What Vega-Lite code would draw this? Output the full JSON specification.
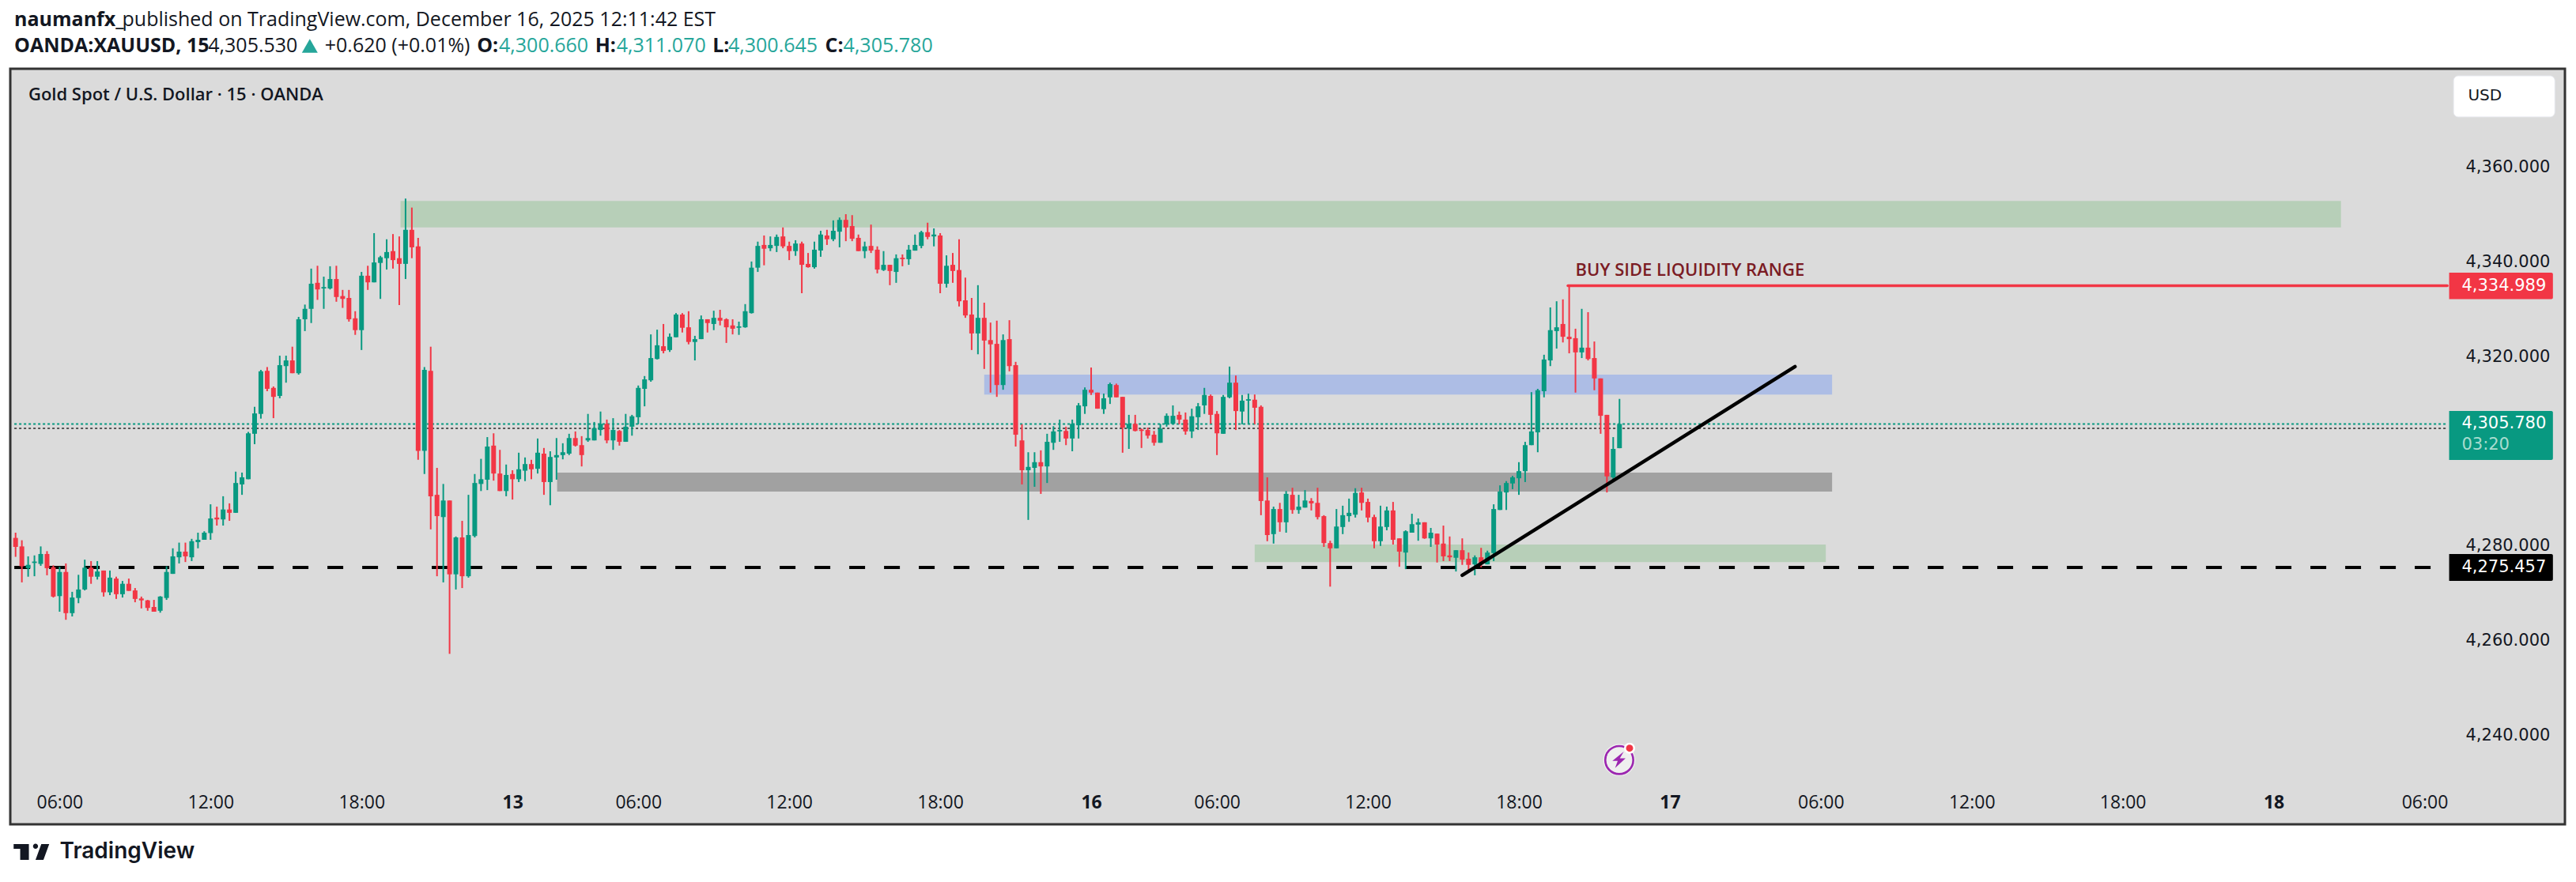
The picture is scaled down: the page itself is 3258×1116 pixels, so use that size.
{
  "$schema": "https://vega.github.io/schema/vega-lite/v6.json",
  "description": "Gold Spot / U.S. Dollar 15 minute candles with marked zones",
  "width": 3231,
  "height": 956,
  "autosize": "none",
  "padding": {"left": 13, "top": 87, "right": 14, "bottom": 73},
  "background": "#ffffff",
  "datasets": {
    "candles": [
      {"bar":0,"open":4281.7,"high":4282.8,"low":4277.7,"close":4279.8},
      {"bar":1,"open":4279.9,"high":4281.2,"low":4272.3,"close":4275.7},
      {"bar":2,"open":4275.3,"high":4277.8,"low":4273.5,"close":4276.0},
      {"bar":3,"open":4276.4,"high":4278.0,"low":4273.6,"close":4276.7},
      {"bar":4,"open":4276.2,"high":4279.9,"low":4275.8,"close":4278.3},
      {"bar":5,"open":4278.3,"high":4278.9,"low":4273.8,"close":4275.3},
      {"bar":6,"open":4275.5,"high":4275.9,"low":4269.1,"close":4269.3},
      {"bar":7,"open":4269.4,"high":4275.6,"low":4266.1,"close":4274.5},
      {"bar":8,"open":4274.5,"high":4276.3,"low":4264.4,"close":4265.8},
      {"bar":9,"open":4265.8,"high":4270.3,"low":4265.1,"close":4269.1},
      {"bar":10,"open":4269.0,"high":4273.9,"low":4267.9,"close":4270.8},
      {"bar":11,"open":4270.8,"high":4277.1,"low":4270.6,"close":4275.4},
      {"bar":12,"open":4275.4,"high":4276.8,"low":4272.0,"close":4273.5},
      {"bar":13,"open":4273.5,"high":4276.8,"low":4272.9,"close":4274.6},
      {"bar":14,"open":4274.8,"high":4274.8,"low":4269.3,"close":4270.2},
      {"bar":15,"open":4270.2,"high":4274.8,"low":4269.6,"close":4273.3},
      {"bar":16,"open":4273.1,"high":4273.5,"low":4268.8,"close":4269.8},
      {"bar":17,"open":4269.8,"high":4272.6,"low":4269.1,"close":4272.0},
      {"bar":18,"open":4272.0,"high":4273.1,"low":4270.5,"close":4270.5},
      {"bar":19,"open":4270.6,"high":4271.1,"low":4268.1,"close":4268.8},
      {"bar":20,"open":4268.9,"high":4269.3,"low":4266.8,"close":4268.5},
      {"bar":21,"open":4268.5,"high":4268.6,"low":4266.3,"close":4266.9},
      {"bar":22,"open":4267.1,"high":4268.6,"low":4266.1,"close":4266.1},
      {"bar":23,"open":4266.3,"high":4269.4,"low":4265.9,"close":4269.3},
      {"bar":24,"open":4269.0,"high":4275.7,"low":4268.6,"close":4274.5},
      {"bar":25,"open":4274.1,"high":4279.5,"low":4274.1,"close":4277.8},
      {"bar":26,"open":4277.6,"high":4280.7,"low":4276.3,"close":4278.8},
      {"bar":27,"open":4278.8,"high":4280.7,"low":4276.6,"close":4277.8},
      {"bar":28,"open":4277.6,"high":4281.5,"low":4276.8,"close":4281.0},
      {"bar":29,"open":4280.8,"high":4282.8,"low":4279.5,"close":4281.3},
      {"bar":30,"open":4281.3,"high":4283.1,"low":4281.3,"close":4282.8},
      {"bar":31,"open":4282.7,"high":4288.8,"low":4281.3,"close":4285.8},
      {"bar":32,"open":4286.0,"high":4288.3,"low":4284.3,"close":4285.6},
      {"bar":33,"open":4285.6,"high":4290.5,"low":4284.3,"close":4287.7},
      {"bar":34,"open":4287.7,"high":4289.0,"low":4285.3,"close":4287.0},
      {"bar":35,"open":4287.0,"high":4295.7,"low":4287.0,"close":4293.3},
      {"bar":36,"open":4293.0,"high":4295.5,"low":4290.8,"close":4294.5},
      {"bar":37,"open":4294.1,"high":4304.1,"low":4294.1,"close":4303.8},
      {"bar":38,"open":4303.7,"high":4309.4,"low":4301.5,"close":4308.0},
      {"bar":39,"open":4307.9,"high":4317.2,"low":4306.9,"close":4316.9},
      {"bar":40,"open":4317.0,"high":4317.8,"low":4312.7,"close":4313.2},
      {"bar":41,"open":4313.4,"high":4313.7,"low":4307.0,"close":4311.5},
      {"bar":42,"open":4311.7,"high":4320.2,"low":4311.2,"close":4318.2},
      {"bar":43,"open":4318.0,"high":4320.2,"low":4314.5,"close":4319.2},
      {"bar":44,"open":4319.2,"high":4322.1,"low":4316.5,"close":4316.5},
      {"bar":45,"open":4316.5,"high":4328.4,"low":4316.2,"close":4327.9},
      {"bar":46,"open":4327.9,"high":4331.0,"low":4325.4,"close":4330.1},
      {"bar":47,"open":4330.1,"high":4338.6,"low":4327.1,"close":4335.4},
      {"bar":48,"open":4335.6,"high":4339.2,"low":4332.0,"close":4334.2},
      {"bar":49,"open":4334.4,"high":4336.9,"low":4330.1,"close":4334.7},
      {"bar":50,"open":4334.4,"high":4339.1,"low":4334.2,"close":4336.4},
      {"bar":51,"open":4336.4,"high":4339.2,"low":4331.6,"close":4332.6},
      {"bar":52,"open":4332.8,"high":4334.1,"low":4330.3,"close":4332.2},
      {"bar":53,"open":4332.4,"high":4334.1,"low":4327.4,"close":4327.9},
      {"bar":54,"open":4328.1,"high":4329.6,"low":4324.6,"close":4325.6},
      {"bar":55,"open":4325.6,"high":4337.9,"low":4321.4,"close":4337.1},
      {"bar":56,"open":4337.1,"high":4339.2,"low":4334.1,"close":4335.7},
      {"bar":57,"open":4335.7,"high":4346.1,"low":4335.7,"close":4339.9},
      {"bar":58,"open":4339.8,"high":4341.3,"low":4332.2,"close":4341.0},
      {"bar":59,"open":4340.8,"high":4344.8,"low":4338.4,"close":4342.1},
      {"bar":60,"open":4342.3,"high":4345.9,"low":4338.6,"close":4340.4},
      {"bar":61,"open":4340.8,"high":4345.4,"low":4330.9,"close":4339.6},
      {"bar":62,"open":4339.6,"high":4353.4,"low":4336.4,"close":4346.8},
      {"bar":63,"open":4346.8,"high":4351.5,"low":4340.8,"close":4343.1},
      {"bar":64,"open":4343.3,"high":4345.1,"low":4298.2,"close":4300.1},
      {"bar":65,"open":4300.1,"high":4317.8,"low":4295.2,"close":4317.2},
      {"bar":66,"open":4317.0,"high":4322.1,"low":4283.5,"close":4290.5},
      {"bar":67,"open":4290.8,"high":4296.5,"low":4273.6,"close":4286.3},
      {"bar":68,"open":4286.1,"high":4293.1,"low":4272.3,"close":4289.6},
      {"bar":69,"open":4289.6,"high":4289.6,"low":4257.2,"close":4274.0},
      {"bar":70,"open":4274.0,"high":4282.0,"low":4270.8,"close":4281.8},
      {"bar":71,"open":4281.8,"high":4285.3,"low":4271.1,"close":4273.6},
      {"bar":72,"open":4273.6,"high":4290.8,"low":4273.3,"close":4282.3},
      {"bar":73,"open":4282.1,"high":4295.2,"low":4281.8,"close":4293.3},
      {"bar":74,"open":4293.1,"high":4298.4,"low":4291.6,"close":4294.1},
      {"bar":75,"open":4294.0,"high":4303.0,"low":4291.8,"close":4301.0},
      {"bar":76,"open":4301.2,"high":4303.8,"low":4293.8,"close":4295.3},
      {"bar":77,"open":4295.3,"high":4300.3,"low":4291.6,"close":4291.6},
      {"bar":78,"open":4291.6,"high":4297.2,"low":4290.5,"close":4295.0},
      {"bar":79,"open":4295.2,"high":4296.0,"low":4289.8,"close":4294.1},
      {"bar":80,"open":4294.1,"high":4299.7,"low":4293.5,"close":4296.2},
      {"bar":81,"open":4295.9,"high":4298.7,"low":4293.7,"close":4297.3},
      {"bar":82,"open":4297.3,"high":4298.2,"low":4294.1,"close":4296.2},
      {"bar":83,"open":4296.3,"high":4302.7,"low":4295.3,"close":4299.7},
      {"bar":84,"open":4299.5,"high":4300.7,"low":4290.8,"close":4293.5},
      {"bar":85,"open":4293.5,"high":4300.0,"low":4288.6,"close":4298.8},
      {"bar":86,"open":4298.7,"high":4302.8,"low":4294.0,"close":4299.2},
      {"bar":87,"open":4299.2,"high":4301.7,"low":4298.3,"close":4299.8},
      {"bar":88,"open":4299.5,"high":4303.7,"low":4299.2,"close":4302.8},
      {"bar":89,"open":4302.8,"high":4304.2,"low":4301.0,"close":4301.2},
      {"bar":90,"open":4301.3,"high":4303.2,"low":4296.8,"close":4299.2},
      {"bar":91,"open":4302.3,"high":4307.9,"low":4302.0,"close":4302.8},
      {"bar":92,"open":4302.3,"high":4306.2,"low":4302.3,"close":4304.9},
      {"bar":93,"open":4304.5,"high":4308.4,"low":4303.3,"close":4305.8},
      {"bar":94,"open":4305.8,"high":4306.7,"low":4301.7,"close":4302.3},
      {"bar":95,"open":4302.3,"high":4307.0,"low":4300.3,"close":4304.5},
      {"bar":96,"open":4304.3,"high":4304.5,"low":4301.2,"close":4302.0},
      {"bar":97,"open":4302.0,"high":4307.9,"low":4302.0,"close":4305.2},
      {"bar":98,"open":4305.2,"high":4307.7,"low":4303.3,"close":4307.4},
      {"bar":99,"open":4307.2,"high":4313.9,"low":4305.7,"close":4313.4},
      {"bar":100,"open":4313.2,"high":4315.9,"low":4309.5,"close":4315.2},
      {"bar":101,"open":4315.0,"high":4324.7,"low":4314.7,"close":4319.7},
      {"bar":102,"open":4319.5,"high":4325.7,"low":4319.4,"close":4322.4},
      {"bar":103,"open":4322.2,"high":4326.9,"low":4320.7,"close":4321.2},
      {"bar":104,"open":4321.4,"high":4324.9,"low":4321.0,"close":4324.2},
      {"bar":105,"open":4324.1,"high":4329.2,"low":4324.1,"close":4328.9},
      {"bar":106,"open":4328.9,"high":4329.2,"low":4325.1,"close":4326.1},
      {"bar":107,"open":4326.2,"high":4329.6,"low":4322.6,"close":4323.1},
      {"bar":108,"open":4323.1,"high":4324.4,"low":4319.2,"close":4323.7},
      {"bar":109,"open":4323.7,"high":4328.7,"low":4323.7,"close":4327.9},
      {"bar":110,"open":4327.9,"high":4327.9,"low":4325.1,"close":4327.1},
      {"bar":111,"open":4326.9,"high":4329.7,"low":4325.6,"close":4328.2},
      {"bar":112,"open":4328.2,"high":4329.9,"low":4326.6,"close":4327.6},
      {"bar":113,"open":4327.9,"high":4328.1,"low":4322.9,"close":4326.2},
      {"bar":114,"open":4326.6,"high":4327.9,"low":4324.7,"close":4325.9},
      {"bar":115,"open":4326.1,"high":4327.4,"low":4324.6,"close":4326.4},
      {"bar":116,"open":4326.2,"high":4331.1,"low":4326.1,"close":4329.6},
      {"bar":117,"open":4329.2,"high":4340.1,"low":4329.1,"close":4338.8},
      {"bar":118,"open":4338.8,"high":4344.3,"low":4337.9,"close":4343.4},
      {"bar":119,"open":4343.6,"high":4345.6,"low":4339.3,"close":4342.8},
      {"bar":120,"open":4342.9,"high":4345.4,"low":4342.3,"close":4343.6},
      {"bar":121,"open":4343.4,"high":4345.8,"low":4342.1,"close":4345.3},
      {"bar":122,"open":4345.4,"high":4347.3,"low":4342.9,"close":4343.3},
      {"bar":123,"open":4343.4,"high":4344.3,"low":4340.4,"close":4342.3},
      {"bar":124,"open":4342.3,"high":4344.6,"low":4341.3,"close":4343.9},
      {"bar":125,"open":4343.9,"high":4344.3,"low":4333.4,"close":4339.4},
      {"bar":126,"open":4339.6,"high":4341.9,"low":4338.8,"close":4338.9},
      {"bar":127,"open":4338.9,"high":4344.3,"low":4338.6,"close":4342.6},
      {"bar":128,"open":4342.4,"high":4346.6,"low":4341.1,"close":4345.8},
      {"bar":129,"open":4345.6,"high":4346.8,"low":4343.6,"close":4344.8},
      {"bar":130,"open":4344.8,"high":4348.8,"low":4344.4,"close":4346.6},
      {"bar":131,"open":4346.4,"high":4349.4,"low":4343.1,"close":4348.9},
      {"bar":132,"open":4348.9,"high":4350.1,"low":4344.4,"close":4347.3},
      {"bar":133,"open":4347.6,"high":4349.9,"low":4344.4,"close":4344.9},
      {"bar":134,"open":4345.1,"high":4345.8,"low":4342.3,"close":4342.3},
      {"bar":135,"open":4342.3,"high":4344.3,"low":4340.8,"close":4343.3},
      {"bar":136,"open":4343.4,"high":4347.9,"low":4341.9,"close":4342.4},
      {"bar":137,"open":4342.6,"high":4343.3,"low":4337.6,"close":4338.4},
      {"bar":138,"open":4338.3,"high":4342.3,"low":4338.1,"close":4339.4},
      {"bar":139,"open":4339.4,"high":4339.4,"low":4335.1,"close":4338.1},
      {"bar":140,"open":4337.9,"high":4341.6,"low":4335.6,"close":4340.8},
      {"bar":141,"open":4340.9,"high":4341.6,"low":4339.1,"close":4340.6},
      {"bar":142,"open":4340.6,"high":4343.6,"low":4339.4,"close":4342.6},
      {"bar":143,"open":4342.4,"high":4345.8,"low":4342.4,"close":4343.6},
      {"bar":144,"open":4343.4,"high":4346.6,"low":4342.9,"close":4346.3},
      {"bar":145,"open":4346.3,"high":4348.3,"low":4344.8,"close":4345.3},
      {"bar":146,"open":4345.4,"high":4347.1,"low":4343.3,"close":4345.8},
      {"bar":147,"open":4345.6,"high":4346.1,"low":4333.4,"close":4335.4},
      {"bar":148,"open":4335.4,"high":4341.4,"low":4334.6,"close":4339.2},
      {"bar":149,"open":4339.4,"high":4341.9,"low":4335.6,"close":4338.1},
      {"bar":150,"open":4338.3,"high":4344.8,"low":4330.6,"close":4331.7},
      {"bar":151,"open":4331.9,"high":4336.7,"low":4328.2,"close":4328.7},
      {"bar":152,"open":4328.9,"high":4332.4,"low":4321.4,"close":4324.9},
      {"bar":153,"open":4324.9,"high":4335.1,"low":4320.5,"close":4328.2},
      {"bar":154,"open":4328.2,"high":4331.4,"low":4317.4,"close":4323.4},
      {"bar":155,"open":4323.5,"high":4327.2,"low":4312.4,"close":4322.6},
      {"bar":156,"open":4322.7,"high":4327.6,"low":4311.5,"close":4314.0},
      {"bar":157,"open":4314.0,"high":4324.7,"low":4313.0,"close":4323.5},
      {"bar":158,"open":4323.7,"high":4327.7,"low":4316.9,"close":4318.0},
      {"bar":159,"open":4318.2,"high":4318.9,"low":4301.0,"close":4303.5},
      {"bar":160,"open":4302.3,"high":4305.7,"low":4293.0,"close":4296.0},
      {"bar":161,"open":4296.0,"high":4299.8,"low":4285.5,"close":4296.7},
      {"bar":162,"open":4296.5,"high":4299.8,"low":4292.5,"close":4297.7},
      {"bar":163,"open":4297.7,"high":4300.2,"low":4291.0,"close":4296.8},
      {"bar":164,"open":4296.8,"high":4303.7,"low":4293.3,"close":4302.0},
      {"bar":165,"open":4301.8,"high":4305.3,"low":4300.3,"close":4304.2},
      {"bar":166,"open":4304.2,"high":4306.7,"low":4302.0,"close":4304.5},
      {"bar":167,"open":4304.3,"high":4305.2,"low":4301.3,"close":4302.7},
      {"bar":168,"open":4302.7,"high":4306.7,"low":4300.0,"close":4305.8},
      {"bar":169,"open":4305.5,"high":4310.2,"low":4302.7,"close":4309.7},
      {"bar":170,"open":4309.5,"high":4313.5,"low":4307.9,"close":4313.0},
      {"bar":171,"open":4313.0,"high":4317.7,"low":4311.9,"close":4312.4},
      {"bar":172,"open":4312.4,"high":4312.4,"low":4309.0,"close":4309.0},
      {"bar":173,"open":4308.9,"high":4312.2,"low":4307.9,"close":4311.2},
      {"bar":174,"open":4311.4,"high":4314.5,"low":4310.0,"close":4314.2},
      {"bar":175,"open":4314.0,"high":4314.3,"low":4311.4,"close":4311.4},
      {"bar":176,"open":4311.5,"high":4311.5,"low":4299.7,"close":4305.0},
      {"bar":177,"open":4304.8,"high":4307.7,"low":4300.5,"close":4305.8},
      {"bar":178,"open":4305.8,"high":4307.7,"low":4304.2,"close":4304.3},
      {"bar":179,"open":4304.6,"high":4304.8,"low":4300.7,"close":4304.3},
      {"bar":180,"open":4304.5,"high":4305.0,"low":4302.7,"close":4303.3},
      {"bar":181,"open":4303.5,"high":4304.3,"low":4301.2,"close":4301.8},
      {"bar":182,"open":4301.8,"high":4305.8,"low":4301.8,"close":4304.8},
      {"bar":183,"open":4305.7,"high":4308.0,"low":4305.2,"close":4307.5},
      {"bar":184,"open":4305.8,"high":4309.7,"low":4305.7,"close":4307.5},
      {"bar":185,"open":4307.7,"high":4308.4,"low":4305.7,"close":4306.7},
      {"bar":186,"open":4306.7,"high":4308.2,"low":4303.5,"close":4304.2},
      {"bar":187,"open":4304.2,"high":4309.0,"low":4302.8,"close":4307.4},
      {"bar":188,"open":4307.2,"high":4310.2,"low":4304.5,"close":4309.5},
      {"bar":189,"open":4309.7,"high":4313.4,"low":4307.9,"close":4311.9},
      {"bar":190,"open":4311.7,"high":4312.0,"low":4305.8,"close":4307.7},
      {"bar":191,"open":4307.9,"high":4308.5,"low":4299.2,"close":4303.8},
      {"bar":192,"open":4303.7,"high":4311.9,"low":4303.7,"close":4311.5},
      {"bar":193,"open":4311.4,"high":4317.9,"low":4311.2,"close":4314.5},
      {"bar":194,"open":4314.5,"high":4316.0,"low":4304.5,"close":4308.5},
      {"bar":195,"open":4308.4,"high":4311.9,"low":4305.7,"close":4310.7},
      {"bar":196,"open":4310.7,"high":4312.2,"low":4305.7,"close":4311.0},
      {"bar":197,"open":4310.9,"high":4312.0,"low":4305.7,"close":4309.2},
      {"bar":198,"open":4309.4,"high":4309.7,"low":4286.5,"close":4289.5},
      {"bar":199,"open":4289.6,"high":4294.5,"low":4281.0,"close":4282.3},
      {"bar":200,"open":4282.5,"high":4288.3,"low":4280.5,"close":4287.8},
      {"bar":201,"open":4287.8,"high":4289.1,"low":4283.0,"close":4285.0},
      {"bar":202,"open":4285.0,"high":4291.6,"low":4282.8,"close":4291.0},
      {"bar":203,"open":4290.8,"high":4292.3,"low":4286.8,"close":4287.6},
      {"bar":204,"open":4287.6,"high":4290.8,"low":4286.8,"close":4288.3},
      {"bar":205,"open":4288.1,"high":4291.8,"low":4288.1,"close":4289.6},
      {"bar":206,"open":4289.5,"high":4290.1,"low":4287.5,"close":4289.0},
      {"bar":207,"open":4289.1,"high":4292.3,"low":4285.6,"close":4286.1},
      {"bar":208,"open":4286.3,"high":4286.5,"low":4279.8,"close":4280.6},
      {"bar":209,"open":4280.6,"high":4281.1,"low":4271.4,"close":4279.5},
      {"bar":210,"open":4279.5,"high":4287.8,"low":4279.5,"close":4284.1},
      {"bar":211,"open":4284.0,"high":4288.5,"low":4282.5,"close":4286.5},
      {"bar":212,"open":4286.3,"high":4290.0,"low":4285.1,"close":4287.0},
      {"bar":213,"open":4286.6,"high":4292.2,"low":4286.0,"close":4291.2},
      {"bar":214,"open":4291.3,"high":4292.3,"low":4287.5,"close":4289.1},
      {"bar":215,"open":4289.3,"high":4290.0,"low":4285.0,"close":4286.0},
      {"bar":216,"open":4286.1,"high":4286.6,"low":4279.5,"close":4281.0},
      {"bar":217,"open":4281.0,"high":4288.5,"low":4280.0,"close":4284.1},
      {"bar":218,"open":4284.0,"high":4288.3,"low":4283.3,"close":4287.5},
      {"bar":219,"open":4287.5,"high":4289.3,"low":4280.3,"close":4281.3},
      {"bar":220,"open":4281.6,"high":4281.6,"low":4275.6,"close":4278.8},
      {"bar":221,"open":4278.6,"high":4283.3,"low":4275.1,"close":4283.1},
      {"bar":222,"open":4282.8,"high":4286.8,"low":4282.8,"close":4284.6},
      {"bar":223,"open":4284.5,"high":4285.8,"low":4281.1,"close":4285.0},
      {"bar":224,"open":4285.0,"high":4285.0,"low":4281.5,"close":4281.6},
      {"bar":225,"open":4281.6,"high":4283.8,"low":4279.8,"close":4282.8},
      {"bar":226,"open":4282.6,"high":4282.6,"low":4276.5,"close":4280.3},
      {"bar":227,"open":4280.5,"high":4284.3,"low":4276.8,"close":4277.8},
      {"bar":228,"open":4278.0,"high":4282.0,"low":4276.8,"close":4277.6},
      {"bar":229,"open":4277.5,"high":4279.1,"low":4274.6,"close":4279.1},
      {"bar":230,"open":4279.1,"high":4281.6,"low":4276.0,"close":4277.1},
      {"bar":231,"open":4277.3,"high":4278.6,"low":4274.3,"close":4276.0},
      {"bar":232,"open":4276.1,"high":4278.0,"low":4273.8,"close":4277.6},
      {"bar":233,"open":4277.6,"high":4279.6,"low":4275.5,"close":4276.3},
      {"bar":234,"open":4276.1,"high":4279.0,"low":4276.1,"close":4278.6},
      {"bar":235,"open":4278.5,"high":4288.8,"low":4276.8,"close":4287.8},
      {"bar":236,"open":4287.6,"high":4292.8,"low":4287.6,"close":4291.5},
      {"bar":237,"open":4291.3,"high":4293.7,"low":4287.6,"close":4293.3},
      {"bar":238,"open":4293.2,"high":4294.8,"low":4292.0,"close":4294.5},
      {"bar":239,"open":4294.3,"high":4297.7,"low":4290.8,"close":4295.8},
      {"bar":240,"open":4295.8,"high":4302.0,"low":4293.5,"close":4301.3},
      {"bar":241,"open":4301.3,"high":4312.5,"low":4301.3,"close":4304.2},
      {"bar":242,"open":4304.0,"high":4313.2,"low":4299.8,"close":4312.9},
      {"bar":243,"open":4312.7,"high":4320.4,"low":4311.4,"close":4319.4},
      {"bar":244,"open":4319.2,"high":4330.4,"low":4318.0,"close":4325.6},
      {"bar":245,"open":4325.4,"high":4331.7,"low":4321.7,"close":4326.2},
      {"bar":246,"open":4326.9,"high":4332.1,"low":4323.0,"close":4324.2},
      {"bar":247,"open":4324.2,"high":4334.9,"low":4320.7,"close":4323.7},
      {"bar":248,"open":4323.9,"high":4325.9,"low":4312.4,"close":4320.9},
      {"bar":249,"open":4320.9,"high":4330.1,"low":4319.7,"close":4321.9},
      {"bar":250,"open":4321.9,"high":4329.4,"low":4319.2,"close":4319.5},
      {"bar":251,"open":4319.7,"high":4323.2,"low":4312.9,"close":4315.4},
      {"bar":252,"open":4315.4,"high":4315.4,"low":4303.7,"close":4307.5},
      {"bar":253,"open":4307.7,"high":4307.7,"low":4291.3,"close":4294.7},
      {"bar":254,"open":4294.5,"high":4303.0,"low":4293.5,"close":4300.5},
      {"bar":255,"open":4300.66,"high":4311.07,"low":4300.645,"close":4305.78}
    ]
  },
  "encoding": {
    "x": {
      "field": "bar",
      "type": "quantitative",
      "scale": {"domain": [-0.213, 404.68], "nice": false, "zero": false},
      "axis": {
        "title": null,
        "orient": "bottom",
        "offset": -28,
        "domain": false,
        "ticks": false,
        "grid": false,
        "labelPadding": 0,
        "labelBaseline": "middle",
        "labelAlign": "center",
        "labelFont": "Open Sans",
        "labelFontSize": 23,
        "labelColor": "#131722",
        "labelOverlap": false,
        "labelBound": false,
        "labelFlush": false,
        "values": [7,31,55,79,99,123,147,171,191,215,239,263,287,311,335,359,383],
        "labelExpr": "['06:00','12:00','18:00','13','06:00','12:00','18:00','16','06:00','12:00','18:00','17','06:00','12:00','18:00','18','06:00'][indexof([7,31,55,79,99,123,147,171,191,215,239,263,287,311,335,359,383],datum.value)]",
        "labelFontWeight": {"condition": {"test": "indexof([79,171,263,359],datum.value)>=0", "value": "bold"}, "value": "normal"}
      }
    },
    "y": {
      "field": "price",
      "type": "quantitative",
      "scale": {"domain": [4221.18, 4380.83], "nice": false, "zero": false},
      "axis": {
        "title": null,
        "orient": "right",
        "offset": -126,
        "domain": false,
        "ticks": false,
        "grid": false,
        "labelPadding": 0,
        "labelAlign": "left",
        "labelBaseline": "middle",
        "labelFont": "DejaVu Sans",
        "labelFontSize": 21,
        "labelColor": "#131722",
        "labelOverlap": false,
        "labelBound": false,
        "format": ",.3f",
        "values": [4240,4260,4280,4300,4320,4340,4360]
      }
    }
  },
  "layer": [
    {
      "data": {"values": [
        {"zone": "top supply", "bar": 61.2, "bar2": 369.7, "price": 4352.9, "price2": 4347.3},
        {"zone": "low demand", "bar": 197.0, "bar2": 287.8, "price": 4280.3, "price2": 4276.6}
      ]},
      "mark": {"type": "rect", "color": "#b7cfb8"},
      "encoding": {"x2": {"field": "bar2"}, "y2": {"field": "price2"}}
    },
    {
      "data": {"values": [{"zone": "resistance", "bar": 154.0, "bar2": 288.8, "price": 4316.2, "price2": 4312.0}]},
      "mark": {"type": "rect", "color": "#adbde5"},
      "encoding": {"x2": {"field": "bar2"}, "y2": {"field": "price2"}}
    },
    {
      "data": {"values": [{"zone": "support", "bar": 86.1, "bar2": 288.8, "price": 4295.5, "price2": 4291.5}]},
      "mark": {"type": "rect", "color": "#a1a1a1"},
      "encoding": {"x2": {"field": "bar2"}, "y2": {"field": "price2"}}
    },
    {
      "data": {"values": [{"bar": -0.2, "bar2": 386.6, "price": 4304.85}]},
      "mark": {"type": "rule", "color": "#555555", "strokeWidth": 2, "strokeDash": [3, 3]},
      "encoding": {"x2": {"field": "bar2"}}
    },
    {
      "data": {"values": [{"bar": -0.2, "bar2": 386.6, "price": 4305.78}]},
      "mark": {"type": "rule", "color": "#089981", "strokeWidth": 2, "strokeDash": [3, 3]},
      "encoding": {"x2": {"field": "bar2"}}
    },
    {
      "data": {"values": [{"bar": -0.2, "bar2": 386.6, "price": 4275.457}]},
      "mark": {"type": "rule", "color": "#000000", "strokeWidth": 4, "strokeDash": [20, 24]},
      "encoding": {"x2": {"field": "bar2"}}
    },
    {
      "data": {"name": "candles"},
      "mark": {"type": "rule", "strokeWidth": 2, "clip": true},
      "encoding": {
        "y": {"field": "low"},
        "y2": {"field": "high"},
        "color": {"condition": {"test": "datum.close >= datum.open", "value": "#089981"}, "value": "#f23645"}
      }
    },
    {
      "data": {"name": "candles"},
      "mark": {"type": "bar", "width": 6, "clip": true},
      "encoding": {
        "y": {"field": "open"},
        "y2": {"field": "close"},
        "color": {"condition": {"test": "datum.close >= datum.open", "value": "#089981"}, "value": "#f23645"}
      }
    },
    {
      "data": {"values": [{"bar": 246.8, "price": 4334.989}, {"bar": 386.6, "price": 4334.989}]},
      "mark": {"type": "line", "color": "#f23645", "strokeWidth": 3.5, "strokeCap": "round"}
    },
    {
      "data": {"values": [{"bar": 230.0, "price": 4273.8}, {"bar": 282.9, "price": 4317.9}]},
      "mark": {"type": "line", "color": "#000000", "strokeWidth": 4.5, "strokeCap": "round"}
    },
    {
      "data": {"values": [{"bar": 248.0, "price": 4338.25, "label": "BUY SIDE LIQUIDITY RANGE"}]},
      "mark": {"type": "text", "align": "left", "baseline": "middle", "font": "Open Sans", "fontSize": 22, "fontWeight": 600, "color": "#7b1c24"},
      "encoding": {"text": {"field": "label"}}
    },
    {
      "data": {"values": [{"bar": 387.6, "bar2": 403.7, "price": 4379.33, "price2": 4370.65}]},
      "mark": {"type": "rect", "color": "#ffffff", "stroke": "#e6e8ee", "cornerRadius": 6},
      "encoding": {"x2": {"field": "bar2"}, "y2": {"field": "price2"}}
    },
    {
      "data": {"values": [{"bar": 389.9, "price": 4375.07, "label": "USD"}]},
      "mark": {"type": "text", "align": "left", "baseline": "middle", "font": "DejaVu Sans", "fontSize": 20, "color": "#131722"},
      "encoding": {"text": {"field": "label"}}
    },
    {
      "data": {"values": [{"bar": 386.9, "bar2": 403.4, "price": 4337.74, "price2": 4332.15}]},
      "mark": {"type": "rect", "color": "#f23645", "cornerRadiusTopRight": 2, "cornerRadiusBottomRight": 2},
      "encoding": {"x2": {"field": "bar2"}, "y2": {"field": "price2"}}
    },
    {
      "data": {"values": [{"bar": 386.9, "bar2": 403.4, "price": 4308.52, "price2": 4298.16}]},
      "mark": {"type": "rect", "color": "#089981", "cornerRadiusTopRight": 2, "cornerRadiusBottomRight": 2},
      "encoding": {"x2": {"field": "bar2"}, "y2": {"field": "price2"}}
    },
    {
      "data": {"values": [{"bar": 386.9, "bar2": 403.4, "price": 4278.29, "price2": 4272.61}]},
      "mark": {"type": "rect", "color": "#000000", "cornerRadiusTopRight": 2, "cornerRadiusBottomRight": 2},
      "encoding": {"x2": {"field": "bar2"}, "y2": {"field": "price2"}}
    },
    {
      "data": {"values": [
        {"bar": 388.9, "price": 4334.989, "label": "4,334.989"},
        {"bar": 388.9, "price": 4305.9, "label": "4,305.780"},
        {"bar": 388.9, "price": 4275.457, "label": "4,275.457"}
      ]},
      "mark": {"type": "text", "align": "left", "baseline": "middle", "font": "DejaVu Sans", "fontSize": 21, "color": "#ffffff"},
      "encoding": {"text": {"field": "label"}}
    },
    {
      "data": {"values": [{"bar": 388.9, "price": 4301.3, "label": "03:20"}]},
      "mark": {"type": "text", "align": "left", "baseline": "middle", "font": "DejaVu Sans", "fontSize": 21, "color": "#a8dccf"},
      "encoding": {"text": {"field": "label"}}
    },
    {
      "data": {"values": [{"bar": 2.04, "price": 4375.3, "label": "Gold Spot / U.S. Dollar · 15 · OANDA"}]},
      "mark": {"type": "text", "align": "left", "baseline": "middle", "font": "Open Sans", "fontSize": 22, "fontWeight": 600, "color": "#131722"},
      "encoding": {"text": {"field": "label"}}
    },
    {
      "data": {"values": [
        {"bar": -0.21, "price": 4391.18, "label": "naumanfx_"},
        {"bar": -0.21, "price": 4385.67, "label": "OANDA:XAUUSD, 15"},
        {"bar": 73.35, "price": 4385.67, "label": "O:"},
        {"bar": 92.14, "price": 4385.67, "label": "H:"},
        {"bar": 110.8, "price": 4385.67, "label": "L:"},
        {"bar": 128.7, "price": 4385.67, "label": "C:"}
      ]},
      "mark": {"type": "text", "align": "left", "baseline": "middle", "font": "Open Sans", "fontSize": 25, "fontWeight": "bold", "color": "#131722"},
      "encoding": {"text": {"field": "label"}}
    },
    {
      "data": {"values": [
        {"bar": 16.95, "price": 4391.18, "label": "published on TradingView.com, December 16, 2025 12:11:42 EST"},
        {"bar": 30.62, "price": 4385.67, "label": "4,305.530"},
        {"bar": 49.16, "price": 4385.67, "label": "+0.620 (+0.01%)"}
      ]},
      "mark": {"type": "text", "align": "left", "baseline": "middle", "font": "Open Sans", "fontSize": 25, "color": "#131722"},
      "encoding": {"text": {"field": "label"}}
    },
    {
      "data": {"values": [
        {"bar": 76.85, "price": 4385.67, "label": "4,300.660"},
        {"bar": 95.53, "price": 4385.67, "label": "4,311.070"},
        {"bar": 113.3, "price": 4385.67, "label": "4,300.645"},
        {"bar": 131.6, "price": 4385.67, "label": "4,305.780"}
      ]},
      "mark": {"type": "text", "align": "left", "baseline": "middle", "font": "Open Sans", "fontSize": 25, "color": "#26a69a"},
      "encoding": {"text": {"field": "label"}}
    },
    {
      "data": {"values": [{"bar": 46.78, "price": 4385.67}]},
      "mark": {"type": "point", "shape": "triangle-up", "size": 400, "filled": true, "opacity": 1, "color": "#26a69a"}
    },
    {
      "data": {"values": [{"bar": 7.02, "price": 4215.33, "label": "TradingView"}]},
      "mark": {"type": "text", "align": "left", "baseline": "middle", "font": "Inter", "fontSize": 28, "fontWeight": 600, "color": "#131722"},
      "encoding": {"text": {"field": "label"}}
    },
    {
      "data": {"values": [{"bar": 2.52, "price": 4215.33}]},
      "mark": {
        "type": "point",
        "filled": true,
        "opacity": 1,
        "size": 2025,
        "color": "#131722",
        "shape": "M-1 -0.444L-0.142 -0.444L-0.142 0.444L-0.631 0.444L-0.631 -0.178L-1 -0.178ZM0.556 -0.444L1 -0.444L0.676 0.444L0.231 0.444ZM0.089 -0.324a0.142 0.142 0 1 0 0.284 0a0.142 0.142 0 1 0 -0.284 0Z"
      }
    },
    {
      "data": {"values": [{"bar": 254.96, "price": 4234.76}]},
      "mark": {"type": "point", "shape": "circle", "size": 1660, "filled": true, "opacity": 0.55, "color": "#ffffff"}
    },
    {
      "data": {"values": [{"bar": 254.96, "price": 4234.76}]},
      "mark": {"type": "point", "shape": "circle", "size": 1257, "filled": false, "opacity": 1, "strokeWidth": 2.6, "color": "#9c27b0"}
    },
    {
      "data": {"values": [{"bar": 254.96, "price": 4234.76}]},
      "mark": {
        "type": "point",
        "filled": true,
        "opacity": 1,
        "size": 900,
        "color": "#9c27b0",
        "shape": "M0.38 -0.71L-0.58 0.07L-0.13 0.07L-0.35 0.67L0.53 -0.15L0.05 -0.15Z"
      }
    },
    {
      "data": {"values": [{"bar": 256.6, "price": 4237.26}]},
      "mark": {"type": "point", "shape": "circle", "size": 200, "filled": true, "opacity": 1, "color": "#ffffff"}
    },
    {
      "data": {"values": [{"bar": 256.6, "price": 4237.26}]},
      "mark": {"type": "point", "shape": "circle", "size": 80, "filled": true, "opacity": 1, "color": "#f23645"}
    }
  ],
  "config": {
    "view": {"fill": "#dbdbdb", "stroke": "#333333", "strokeWidth": 3}
  }
}
